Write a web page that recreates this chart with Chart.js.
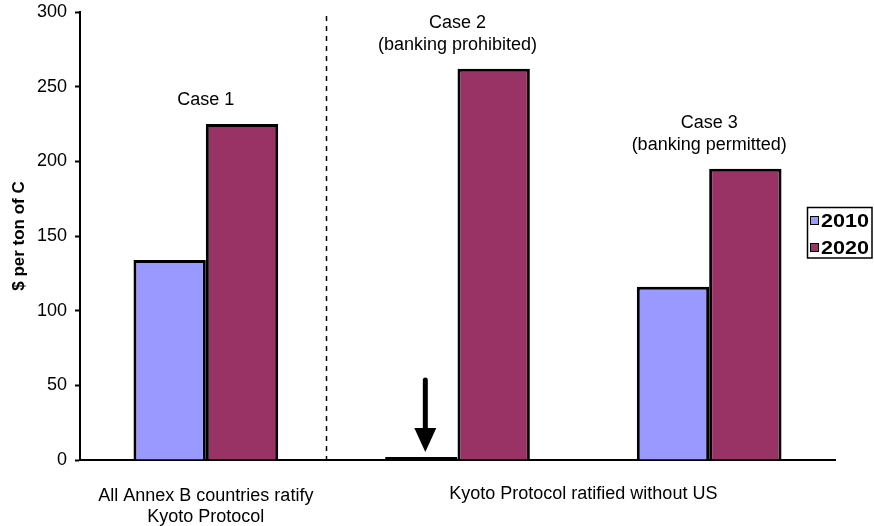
<!DOCTYPE html>
<html>
<head>
<meta charset="utf-8">
<script src="https://cdn.jsdelivr.net/npm/chart.js@4/dist/chart.umd.min.js"></script>
<style>
  html, body { margin: 0; padding: 0; background: #ffffff; }
  #wrap { width: 874px; height: 526px; }
</style>
</head>
<body>
<div id="wrap"><canvas id="c" width="874" height="526"></canvas></div>
<script>
// Carbon price scenarios, $ per ton of C
const cases = ['Case 1', 'Case 2', 'Case 3'];
const caseNotes = [['Case 1'], ['Case 2', '(banking prohibited)'], ['Case 3', '(banking permitted)']];
const years = ['2010', '2020'];
const values2010 = [134, 2, 116];
const values2020 = [225, 262, 195];
const axisLabels = [['All Annex B countries ratify', 'Kyoto Protocol'], '', ''];
const groupLabel = 'Kyoto Protocol ratified without US';
const yTitle = '$ per ton of C';
const yMin = 0, yMax = 300, yStep = 50;

const FONT = "'Liberation Sans', Arial, Helvetica, sans-serif";
const colors = ['#9999FF', '#993366'];

// Annotations: case notes, divider, arrow, group label and legend box
const decorations = {
  id: 'decorations',
  afterDatasetsDraw(chart) {
    const ctx = chart.ctx;
    const xs = chart.scales.x;
    const area = chart.chartArea;
    const m0 = chart.getDatasetMeta(0).data;
    const m1 = chart.getDatasetMeta(1).data;

    ctx.save();
    ctx.fillStyle = '#000';
    ctx.textAlign = 'center';
    ctx.textBaseline = 'middle';
    ctx.font = '18px ' + FONT;

    // Case notes above each group
    cases.forEach((c, i) => {
      const cx = xs.getPixelForTick(i);
      const top = Math.min(m0[i].y, m1[i].y);
      const lines = caseNotes[i];
      lines.forEach((t, k) => {
        const y = top - 24 - (lines.length - 1 - k) * 22;
        ctx.fillText(t, cx, y);
      });
    });

    // Label shared by the two cases without the US
    const gx = (xs.getPixelForTick(1) + xs.getPixelForTick(2)) / 2;
    ctx.fillText(groupLabel, gx, area.bottom + 34);

    // Dashed divider between the first case and the others
    const dx = Math.round((xs.getPixelForTick(0) + xs.getPixelForTick(1)) / 2) - 5.5;
    ctx.strokeStyle = '#000';
    ctx.lineWidth = 1.5;
    ctx.setLineDash([5, 5]);
    ctx.beginPath();
    ctx.moveTo(dx, area.top + 4);
    ctx.lineTo(dx, area.bottom);
    ctx.stroke();
    ctx.setLineDash([]);

    // Arrow pointing at the near-zero 2010 bar of Case 2
    const ab = m0[1];
    const ax = ab.x + 4;
    const tipY = ab.y - 5;
    ctx.lineWidth = 5;
    ctx.lineCap = 'round';
    ctx.beginPath();
    ctx.moveTo(ax, tipY - 72);
    ctx.lineTo(ax, tipY - 20);
    ctx.stroke();
    ctx.beginPath();
    ctx.moveTo(ax - 11, tipY - 24);
    ctx.lineTo(ax + 11, tipY - 24);
    ctx.lineTo(ax, tipY);
    ctx.closePath();
    ctx.fill();

    // Legend box
    const lx = 807.5, ly = 207.5, lw = 64.5, lh = 50.5;
    ctx.fillStyle = '#fff';
    ctx.fillRect(lx, ly, lw, lh);
    ctx.strokeStyle = '#000';
    ctx.lineWidth = 1.5;
    ctx.strokeRect(lx, ly, lw, lh);
    ctx.font = 'bold 18px ' + FONT;
    ctx.textAlign = 'left';
    years.forEach((yr, i) => {
      const cy = 221 + i * 27;
      ctx.fillStyle = colors[i];
      ctx.fillRect(810.5, cy - 4.5, 8, 8);
      ctx.lineWidth = 1;
      ctx.strokeRect(810.5, cy - 4.5, 8, 8);
      ctx.fillStyle = '#000';
      ctx.save();
      ctx.translate(821, cy + 1);
      ctx.scale(1.2, 1);
      ctx.fillText(yr, 0, 0);
      ctx.restore();
    });
    ctx.restore();
  }
};

// Very short bars keep a full outline so they read as a solid line
const skipEdge = (c) => (c.raw < 5 ? false : 'start');

new Chart(document.getElementById('c'), {
  type: 'bar',
  data: {
    labels: axisLabels,
    datasets: [
      { label: years[0], data: values2010, backgroundColor: colors[0], borderColor: '#000', borderWidth: 3, borderSkipped: skipEdge },
      { label: years[1], data: values2020, backgroundColor: colors[1], borderColor: '#000', borderWidth: 3, borderSkipped: skipEdge }
    ]
  },
  options: {
    responsive: false,
    animation: false,
    events: [],
    layout: { padding: { top: 12, right: 39, left: 0, bottom: 0 } },
    datasets: { bar: { categoryPercentage: 0.575, barPercentage: 1.0 } },
    plugins: { legend: { display: false }, tooltip: { enabled: false } },
    scales: {
      x: {
        grid: { display: false },
        border: { display: true, color: '#000', width: 2 },
        ticks: { color: '#000', font: { family: FONT, size: 18 }, padding: 17, maxRotation: 0, autoSkip: false },
        afterFit(scale) { scale.height = 66; }
      },
      y: {
        min: yMin, max: yMax,
        ticks: { stepSize: yStep, color: '#000', font: { family: FONT, size: 18 }, padding: 8 },
        grid: { drawOnChartArea: false, tickLength: 5, color: '#000', tickWidth: 2 },
        border: { display: true, color: '#000', width: 2 },
        title: { display: true, text: yTitle, color: '#000', font: { family: FONT, size: 17, weight: 'bold' }, padding: { top: 9, bottom: 0 } },
        afterFit(scale) { scale.width = 80; scale.paddingTop = 0; }
      }
    }
  },
  plugins: [decorations]
});
</script>
</body>
</html>
